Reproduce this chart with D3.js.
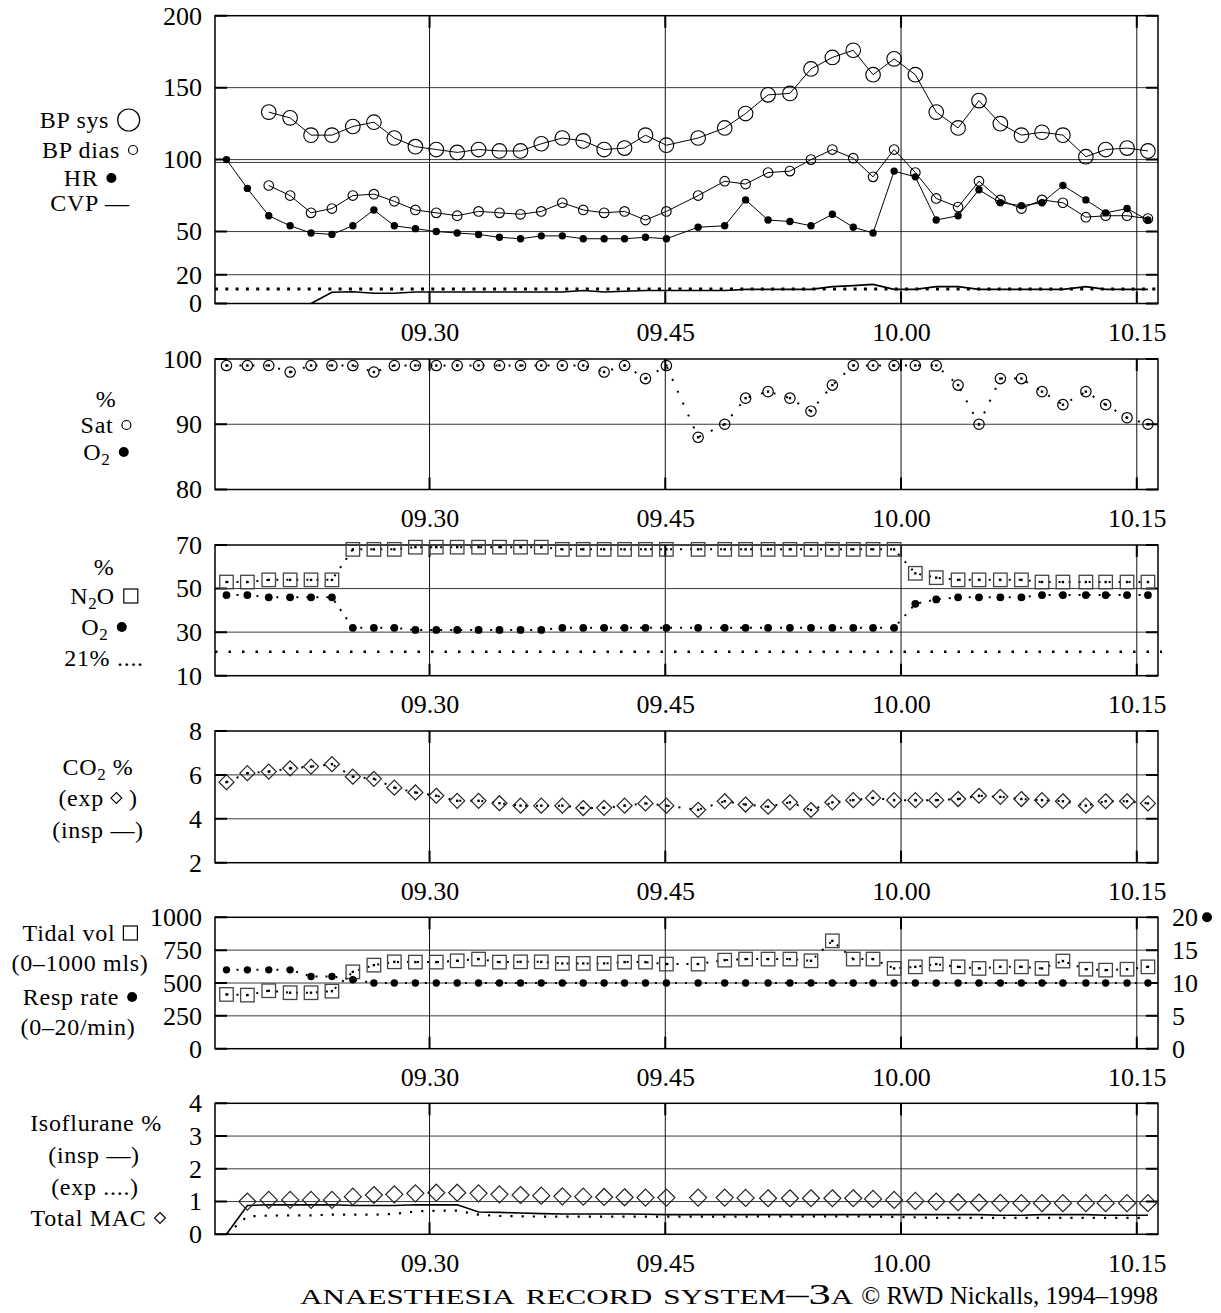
<!DOCTYPE html>
<html>
<head>
<meta charset="utf-8">
<script src="https://cdn.jsdelivr.net/npm/d3@7"></script>
<style>
  body { margin: 0; background: #fff; }
  svg { display: block; font-family: "Liberation Serif", "DejaVu Serif", serif; }
</style>
</head>
<body>
<svg id="chart" width="1221" height="1313"></svg>
<script>
/* DATA */
// sample times in minutes after 09:00 (one reading roughly every 80 s)
const times = [17.08, 18.41, 19.77, 21.13, 22.46, 23.79, 25.12, 26.46, 27.76, 29.10,
  30.43, 31.76, 33.12, 34.45, 35.79, 37.11, 38.45, 39.78, 41.11, 42.41,
  43.74, 45.07, 47.09, 48.78, 50.11, 51.54, 52.93, 54.27, 55.63, 56.96,
  58.22, 59.56, 60.91, 62.24, 63.63, 64.96, 66.32, 67.66, 68.97, 70.30,
  71.76, 73.02, 74.38, 75.71];
const timeTicks = [30, 45, 60, 75];
const timeLabels = ["09.30", "09.45", "10.00", "10.15"];

const bpSys = [null, null, 133, 129, 117, 117, 123, 126, 115, 109, 107, 105, 107, 106, 106, 111, 115, 113, 107,
  108, 117, 110, 115, 122, 132, 145, 146, 163, 171, 176, 159, 170, 159, 133, 122, 141, 125, 117, 119, 117, 102, 107, 108, 106];
const bpDia = [null, null, 82, 75, 63, 66, 75, 76, 71, 65, 63, 61, 64, 63, 62, 64, 70, 65, 63,
  64, 58, 64, 75, 85, 83, 91, 92, 100, 107, 101, 88, 107, 91, 73, 67, 85, 72, 66, 72, 70, 60, 61, 61, 59];
const hr = [100, 80, 61, 54, 49, 48, 54, 65, 54, 52, 50, 49, 48, 46, 45, 47, 47, 45, 45, 45,
  46, 45, 53, 54, 72, 58, 57, 54, 62, 53, 49, 92, 88, 58, 61, 79, 70, 68, 70, 82, 72, 63, 66, 58];
const cvp = [null, null, null, null, 0, 7.8, 8.2, 7.1, 7.1, 8, 8, 8, 8, 8, 8, 8, 8, 9, 8, 8.5,
  9, 9, 9, 9, 9.8, 9.8, 9.8, 9.8, 11.7, 12.4, 13.3, 9.8, 9.8, 11.7, 11.7, 9.8, 9.8, 9.8, 9.8, 9.8, 11.7, 9.8, 9.8, 9.8];
const cvpRef = 10;

const sat = [99, 99, 99, 98, 99, 99, 99, 98, 99, 99, 99, 99, 99, 99, 99, 99, 99, 99, 98, 99,
  97, 99, 88, 90, 94, 95, 94, 92, 96, 99, 99, 99, 99, 99, 96, 90, 97, 97, 95, 93, 95, 93, 91, 90];

const n2o = [53, 53, 54, 54, 54, 54, 68, 68, 68, 69, 69, 69, 69, 69, 69, 69, 68, 68, 68, 68,
  68, 68, 68, 68, 68, 68, 68, 68, 68, 68, 68, 68, 57, 55, 54, 54, 54, 54, 53, 53, 53, 53, 53, 53];
const o2 = [47, 47, 46, 46, 46, 46, 32, 32, 32, 31, 31, 31, 31, 31, 31, 31, 32, 32, 32, 32,
  32, 32, 32, 32, 32, 32, 32, 32, 32, 32, 32, 32, 43, 45, 46, 46, 46, 46, 47, 47, 47, 47, 47, 47];
const airO2 = 21;

const co2Exp = [5.67, 6.08, 6.15, 6.3, 6.38, 6.49, 5.92, 5.82, 5.42, 5.2, 5.05, 4.82, 4.82, 4.71, 4.6, 4.6, 4.6, 4.49, 4.5, 4.6,
  4.7, 4.6, 4.41, 4.8, 4.65, 4.55, 4.75, 4.4, 4.75, 4.85, 4.95, 4.85, 4.85, 4.85, 4.9, 5.05, 5.0, 4.9, 4.85, 4.8, 4.6, 4.8, 4.8, 4.7];

const tidalVol = [413, 408, 441, 426, 426, 438, 585, 636, 661, 659, 659, 669, 682, 659, 661, 661, 649, 649, 649, 659,
  659, 644, 644, 674, 682, 682, 682, 669, 821, 682, 682, 611, 623, 644, 623, 611, 623, 623, 611, 667, 605, 598, 605, 623];
const respRate = [12, 12, 12, 12, 11, 11, 10.5, 10, 10, 10, 10, 10, 10, 10, 10, 10, 10, 10, 10, 10,
  10, 10, 10, 10, 10, 10, 10, 10, 10, 10, 10, 10, 10, 10, 10, 10, 10, 10, 10, 10, 10, 10, 10, 10];

const isoInsp = [0, 0.88, 0.9, 0.9, 0.9, 0.9, 0.88, 0.88, 0.88, 0.9, 0.9, 0.9, 0.68, 0.67, 0.65, 0.63, 0.62, 0.62, 0.62, 0.62,
  0.61, 0.6, 0.6, 0.6, 0.6, 0.6, 0.6, 0.6, 0.6, 0.6, 0.6, 0.6, 0.6, 0.6, 0.6, 0.6, 0.58, 0.58, 0.6, 0.6, 0.6, 0.58, 0.58, 0.58];
const isoExp = [0, 0.55, 0.57, 0.58, 0.58, 0.6, 0.6, 0.6, 0.62, 0.7, 0.72, 0.72, 0.6, 0.56, 0.55, 0.54, 0.54, 0.54, 0.54, 0.54,
  0.54, 0.54, 0.54, 0.54, 0.54, 0.55, 0.55, 0.55, 0.55, 0.55, 0.54, 0.53, 0.52, 0.5, 0.5, 0.5, 0.5, 0.5, 0.5, 0.5, 0.5, 0.5, 0.5, 0.5];
const totalMac = [null, 1.0, 1.05, 1.05, 1.05, 1.05, 1.15, 1.2, 1.22, 1.25, 1.27, 1.27, 1.25, 1.22, 1.2, 1.18, 1.16, 1.15, 1.14, 1.13,
  1.12, 1.12, 1.12, 1.12, 1.11, 1.1, 1.1, 1.1, 1.1, 1.1, 1.08, 1.05, 1.02, 1.0, 0.98, 0.97, 0.96, 0.95, 0.95, 0.95, 0.95, 0.95, 0.95, 0.95];

/* LAYOUT */
const X0 = 215, X1 = 1158;
const FS = 26;   // axis labels
const LFS = 24;  // legend lines
const svg = d3.select("#chart");
const x = d3.scaleLinear().domain([16.35, 76.35]).range([X0, X1]);

const pts = vals => times.map((t, i) => ({ t, v: vals[i] })).filter(d => d.v != null);

// one strip: grid, frame, left axis and time labels
function strip(top, bottom, domain, ticks, grid) {
  const y = d3.scaleLinear().domain(domain).range([bottom, top]);
  const g = svg.append("g");

  g.selectAll(null).data(grid).join("line")
    .attr("x1", X0).attr("x2", X1)
    .attr("y1", d => y(d)).attr("y2", d => y(d))
    .attr("stroke", "#3a3a3a").attr("stroke-width", 1);

  g.selectAll(null).data(timeTicks).join("line")
    .attr("x1", d => x(d)).attr("x2", d => x(d))
    .attr("y1", top).attr("y2", bottom)
    .attr("stroke", "#111").attr("stroke-width", 1);

  // short heavy ticks on the inside of the frame
  g.selectAll(null).data(ticks).join("path")
    .attr("d", d => `M${X0},${y(d)}h12M${X1},${y(d)}h-12`)
    .attr("stroke", "#000").attr("stroke-width", 2);
  g.selectAll(null).data(timeTicks).join("path")
    .attr("d", d => `M${x(d)},${bottom}v-12M${x(d)},${top}v12`)
    .attr("stroke", "#000").attr("stroke-width", 2);

  g.append("rect")
    .attr("x", X0).attr("y", top)
    .attr("width", X1 - X0).attr("height", bottom - top)
    .attr("fill", "none").attr("stroke", "#000").attr("stroke-width", 1.5);

  g.append("g")
    .attr("transform", `translate(${X0},0)`)
    .call(d3.axisLeft(y).tickValues(ticks).tickSize(0).tickPadding(13).tickFormat(d => String(d)))
    .call(a => a.select(".domain").remove())
    .attr("font-family", null).attr("font-size", FS);

  g.append("g")
    .attr("transform", `translate(0,${bottom})`)
    .call(d3.axisBottom(x).tickValues(timeTicks).tickSize(0).tickPadding(19)
      .tickFormat((d, i) => timeLabels[i]))
    .call(a => a.select(".domain").remove())
    .attr("font-family", null).attr("font-size", FS);

  return { g, y };
}

function trace(p, vals, opt) {
  const line = d3.line().x(d => x(d.t)).y(d => p.y(d.v));
  p.g.append("path")
    .attr("d", line(pts(vals)))
    .attr("fill", "none").attr("stroke", "#000")
    .attr("stroke-width", opt.w || 1)
    .attr("stroke-dasharray", opt.dash || null);
}

function rings(p, vals, r, sw) {
  p.g.selectAll(null).data(pts(vals)).join("circle")
    .attr("cx", d => x(d.t)).attr("cy", d => p.y(d.v)).attr("r", r)
    .attr("fill", "none").attr("stroke", "#000").attr("stroke-width", sw || 1);
}

function dots(p, vals, r) {
  p.g.selectAll(null).data(pts(vals)).join("circle")
    .attr("cx", d => x(d.t)).attr("cy", d => p.y(d.v)).attr("r", r)
    .attr("fill", "#000");
}

function boxes(p, vals, s) {
  p.g.selectAll(null).data(pts(vals)).join("rect")
    .attr("x", d => x(d.t) - s / 2).attr("y", d => p.y(d.v) - s / 2)
    .attr("width", s).attr("height", s)
    .attr("fill", "none").attr("stroke", "#444").attr("stroke-width", 1.3);
}

function diamonds(p, vals, h) {
  p.g.selectAll(null).data(pts(vals)).join("path")
    .attr("d", d => `M${x(d.t)},${p.y(d.v) - h}l${h},${h}l${-h},${h}l${-h},${-h}z`)
    .attr("fill", "none").attr("stroke", "#222").attr("stroke-width", 1.2);
}

function centres(p, vals) {
  p.g.selectAll(null).data(pts(vals)).join("rect")
    .attr("x", d => x(d.t) - 1.2).attr("y", d => p.y(d.v) - 1.2)
    .attr("width", 2.4).attr("height", 2.4).attr("fill", "#000");
}

function level(p, v, dash, w) {
  p.g.append("line")
    .attr("x1", X0).attr("x2", X1 + 4)
    .attr("y1", p.y(v)).attr("y2", p.y(v))
    .attr("stroke", "#000").attr("stroke-width", w).attr("stroke-dasharray", dash);
}

/* LEGENDS */
function symbol(g, kind, cx, cy) {
  if (kind === "bigRing") g.append("circle").attr("cx", cx).attr("cy", cy).attr("r", 11).attr("fill", "none").attr("stroke", "#000").attr("stroke-width", 1.2);
  if (kind === "ring") g.append("circle").attr("cx", cx).attr("cy", cy).attr("r", 4.5).attr("fill", "none").attr("stroke", "#000").attr("stroke-width", 1.2);
  if (kind === "dot") g.append("circle").attr("cx", cx).attr("cy", cy).attr("r", 5).attr("fill", "#000");
  if (kind === "box") g.append("rect").attr("x", cx - 7).attr("y", cy - 7).attr("width", 14).attr("height", 14).attr("fill", "none").attr("stroke", "#000").attr("stroke-width", 1.2);
  if (kind === "diamond") g.append("path").attr("d", `M${cx},${cy - 5.5}l5.5,5.5l-5.5,5.5l-5.5,-5.5z`).attr("fill", "none").attr("stroke", "#000").attr("stroke-width", 1.1);
}
const symW = { bigRing: 23, ring: 10, dot: 10, box: 14, diamond: 11 };

function legendLine(parts, cx, cy) {
  const g = svg.append("g");
  const base = cy + 8;
  let pos = 0;
  parts.forEach(p => {
    if (typeof p === "string") {
      const t = g.append("text").attr("x", pos).attr("y", base)
        .attr("font-size", LFS).attr("letter-spacing", 0.7).text(p);
      pos += t.node().getComputedTextLength();
    } else if (p.sub) {
      const t = g.append("text").attr("x", pos).attr("y", base + 5).attr("font-size", 17).text(p.sub);
      pos += t.node().getComputedTextLength();
    } else if (p.sym) {
      symbol(g, p.sym, pos + symW[p.sym] / 2, cy);
      pos += symW[p.sym];
    } else if (p.sp) {
      pos += p.sp;
    }
  });
  g.attr("transform", `translate(${cx - pos / 2},0)`);
}

/* PANEL 1: BP, HR, CVP */
const p1 = strip(15.7, 303.5, [0, 200], [0, 20, 50, 100, 150, 200], [20, 50, 98, 100, 150]);
level(p1, cvpRef, "3,7.3", 3);
trace(p1, cvp, { w: 1.6 });
trace(p1, bpSys, { w: 1 });
trace(p1, bpDia, { w: 1 });
trace(p1, hr, { w: 1 });
rings(p1, bpSys, 7.3, 1.1);
rings(p1, bpDia, 4.8, 1.1);
dots(p1, hr, 3.7);
legendLine(["BP sys", { sp: 8 }, { sym: "bigRing" }], 90, 120);
legendLine(["BP dias", { sp: 8 }, { sym: "ring" }], 90, 150);
legendLine(["HR", { sp: 8 }, { sym: "dot" }], 90, 178);
legendLine(["CVP —"], 90, 203);

/* PANEL 2: saturation */
const p2 = strip(359, 489.5, [80, 100], [80, 90, 100], [90]);
trace(p2, sat, { w: 2, dash: "2,11" });
rings(p2, sat, 5.2, 1.2);
centres(p2, sat);
legendLine(["%"], 106, 399);
legendLine(["Sat", { sp: 8 }, { sym: "ring" }], 106, 425);
legendLine(["O", { sub: "2" }, { sp: 9 }, { sym: "dot" }], 106, 452);

/* PANEL 3: N2O / O2 */
const p3 = strip(545, 675.7, [10, 70], [10, 30, 50, 70], [30, 50]);
level(p3, airO2, "2.5,11", 2.5);
trace(p3, n2o, { w: 2, dash: "2,8" });
trace(p3, o2, { w: 2, dash: "2,8" });
boxes(p3, n2o, 13.5);
centres(p3, n2o);
dots(p3, o2, 3.9);
legendLine(["%"], 104, 567);
legendLine(["N", { sub: "2" }, "O", { sp: 9 }, { sym: "box" }], 104, 596);
legendLine(["O", { sub: "2" }, { sp: 9 }, { sym: "dot" }], 104, 627);
legendLine(["21% ...."], 104, 658);

/* PANEL 4: CO2 */
const p4 = strip(731, 862.7, [2, 8], [2, 4, 6, 8], [4, 6]);
trace(p4, co2Exp, { w: 2, dash: "2,9" });
diamonds(p4, co2Exp, 7.5);
centres(p4, co2Exp);
legendLine(["CO", { sub: "2" }, { sp: 7 }, "%"], 98, 767);
legendLine(["(exp", { sp: 7 }, { sym: "diamond" }, { sp: 7 }, ")"], 98, 798);
legendLine(["(insp —)"], 98, 830);

/* PANEL 5: ventilation */
const p5 = strip(917.3, 1048.7, [0, 1000], [0, 250, 500, 750, 1000], [250, 500, 750]);
const yRate = d3.scaleLinear().domain([0, 20]).range([1048.7, 917.3]);
const p5r = { g: p5.g, y: yRate };
trace(p5, tidalVol, { w: 2, dash: "2,8" });
trace(p5r, respRate, { w: 2, dash: "2,8" });
boxes(p5, tidalVol, 13.5);
centres(p5, tidalVol);
dots(p5r, respRate, 3.7);
const rAxis = p5.g.append("g")
  .attr("transform", `translate(${X1},0)`)
  .call(d3.axisRight(yRate).tickValues([0, 5, 10, 15, 20]).tickSize(0).tickPadding(14))
  .call(a => a.select(".domain").remove())
  .attr("font-family", null).attr("font-size", FS);
const topLabel = rAxis.selectAll(".tick text").filter(d => d === 20).node();
p5.g.append("circle")
  .attr("cx", X1 + 14 + topLabel.getComputedTextLength() + 9)
  .attr("cy", yRate(20)).attr("r", 5).attr("fill", "#000");
legendLine(["Tidal vol", { sp: 8 }, { sym: "box" }], 80, 933);
legendLine(["(0–1000 mls)"], 80, 963);
legendLine(["Resp rate", { sp: 8 }, { sym: "dot" }], 80, 997);
legendLine(["(0–20/min)"], 78, 1027);

/* PANEL 6: isoflurane */
const p6 = strip(1103.3, 1234.3, [0, 4], [0, 1, 2, 3, 4], [1, 2, 3]);
trace(p6, isoInsp, { w: 1.6 });
trace(p6, isoExp, { w: 2.2, dash: "2.2,9" });
diamonds(p6, totalMac, 8.5);
legendLine(["Isoflurane %"], 96, 1123);
legendLine(["(insp —)"], 94, 1155);
legendLine(["(exp ....)"], 95, 1187);
legendLine(["Total MAC", { sp: 8 }, { sym: "diamond" }], 98, 1218);

/* FOOTER */
const credit = svg.append("text")
  .attr("x", X1).attr("y", 1304)
  .attr("text-anchor", "end").attr("font-size", 25)
  .text("© RWD Nickalls, 1994–1998");
const creditW = credit.node().getComputedTextLength();
const scEnd = X1 - creditW - 8;
svg.append("text")
  .attr("x", 300).attr("y", 1304)
  .attr("font-size", 30)
  .style("font-variant", "small-caps")
  .attr("textLength", scEnd - 300)
  .attr("lengthAdjust", "spacingAndGlyphs")
  .text("anaesthesia record system–3a");
</script>
</body>
</html>
